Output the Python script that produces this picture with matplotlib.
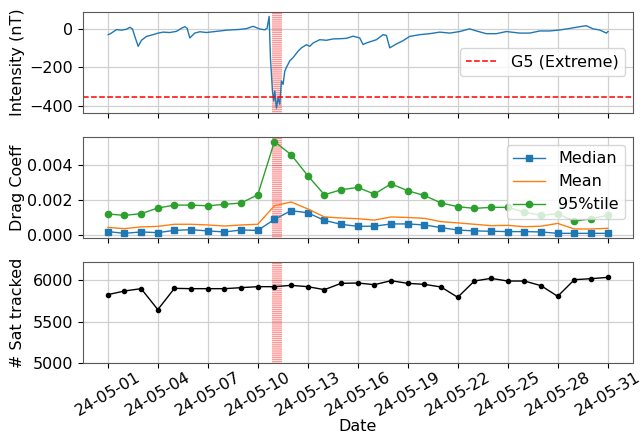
import matplotlib
matplotlib.use('Agg')
import matplotlib.pyplot as plt
import matplotlib.dates as mdates
from matplotlib.ticker import MultipleLocator
import numpy as np
import pandas as pd

plt.rcParams['font.size'] = 11.5

start = pd.Timestamp('2024-05-01')

# Dst-like intensity (days since 2024-05-01, nT)
dst_days = [0.02, 0.16, 0.52, 0.82, 1.12, 1.32, 1.48, 1.62, 1.82, 2.02, 2.32, 2.72,
            3.02, 3.32, 3.72, 4.12, 4.42, 4.62, 4.76, 4.92, 5.22, 5.52, 5.92, 6.32,
            6.72, 7.12, 7.52, 7.92, 8.32, 8.72, 9.12, 9.42, 9.56, 9.68, 9.76, 9.88,
            9.96, 10.02, 10.12, 10.22, 10.32, 10.42, 10.52, 10.62, 10.72, 10.92, 11.12,
            11.42, 11.62, 11.92, 12.12, 12.32, 12.72, 13.12, 13.52, 13.92, 14.32, 14.72,
            15.12, 15.32, 15.52, 16.12, 16.52, 16.72, 16.92, 17.32, 17.72, 18.12, 18.72,
            19.32, 19.92, 20.52, 21.12, 21.72, 22.12, 22.72, 23.32, 23.92, 24.72, 25.32,
            25.92, 26.52, 27.12, 27.72, 28.32, 28.72, 29.12, 29.52, 29.92, 30.02]
dst_vals = [-31, -26, -5, -8, -3, 7, -2, -40, -91, -60, -40, -31,
            -23, -18, -20, -14, 2, 10, 2, -48, -23, -16, -20, -16,
            -12, -8, -6, -4, 0, 12, -2, -6, 2, 63, -150, -322,
            -373, -322, -410, -357, -390, -270, -287, -219, -200, -166, -149,
            -116, -99, -83, -91, -74, -57, -60, -53, -52, -50, -39,
            -48, -82, -74, -57, -31, -35, -99, -79, -62, -40, -31,
            -26, -18, -23, -15, -1, -12, -26, -26, -15, -23, -23,
            -12, -12, -7, 1, 10, 15, -1, -7, -23, -15]
g5_level = -350

# daily statistics, 2024-05-01 .. 2024-05-31
median = [0.00019, 0.00009, 0.00017, 0.00013, 0.00026, 0.00030, 0.00023, 0.00017,
          0.00028, 0.00026, 0.00089, 0.00139, 0.00127, 0.00083, 0.00061, 0.00049,
          0.00050, 0.00063, 0.00063, 0.00057, 0.00042, 0.00028, 0.00023, 0.00021,
          0.00019, 0.00019, 0.00017, 0.00009, 0.00009, 0.00009, 0.00009]
mean = [0.00043, 0.00036, 0.00046, 0.00049, 0.00061, 0.00061, 0.00057, 0.00051,
        0.00057, 0.00061, 0.00167, 0.00189, 0.00149, 0.00103, 0.00097, 0.00093,
        0.00085, 0.00103, 0.00100, 0.00095, 0.00076, 0.00069, 0.00061, 0.00053,
        0.00055, 0.00047, 0.00050, 0.00066, 0.00034, 0.00034, 0.00038]
p95 = [0.00120, 0.00112, 0.00122, 0.00154, 0.00171, 0.00171, 0.00167, 0.00175,
       0.00183, 0.00230, 0.00535, 0.00460, 0.00340, 0.00230, 0.00259, 0.00272,
       0.00234, 0.00293, 0.00253, 0.00226, 0.00183, 0.00162, 0.00152, 0.00158,
       0.00158, 0.00131, 0.00112, 0.00122, 0.00078, 0.00093, 0.00112]
n_sat = [5824, 5868, 5896, 5644, 5900, 5896, 5896, 5896, 5908, 5920, 5920, 5936,
         5920, 5884, 5960, 5964, 5944, 5992, 5960, 5948, 5916, 5792, 5988, 6020,
         5988, 5988, 5932, 5804, 6004, 6016, 6032]

dst_time = start + pd.to_timedelta(dst_days, unit='D')
days = pd.date_range('2024-05-01', '2024-05-31', freq='D')
storm = (pd.Timestamp('2024-05-10 21:00'), pd.Timestamp('2024-05-11 11:00'))

fig, axs = plt.subplots(3, 1, sharex=True, figsize=(6.42, 4.38), dpi=100)
fig.subplots_adjust(left=0.129, right=0.986, top=0.973, bottom=0.171, hspace=0.24)

ax = axs[0]
ax.plot(dst_time, dst_vals, color='tab:blue', lw=1.0)
ax.axhline(g5_level, color='red', ls='--', lw=1.1, label='G5 (Extreme)')
ax.yaxis.set_major_locator(MultipleLocator(200))
ax.set_ylabel('Intensity (nT)', labelpad=2)
ax.legend(loc='center right')

ax = axs[1]
ax.plot(days, median, marker='s', ms=5, lw=1.0, color='tab:blue', label='Median')
ax.plot(days, mean, lw=1.0, color='tab:orange', label='Mean')
ax.plot(days, p95, marker='o', ms=4.5, lw=1.0, color='tab:green', label='95%tile')
ax.yaxis.set_major_locator(MultipleLocator(0.002))
ax.set_ylabel('Drag Coeff', labelpad=2)
ax.legend(loc='upper right')

ax = axs[2]
ax.plot(days, n_sat, marker='o', ms=3, lw=1.0, color='black')
ax.set_ylim(5000, 6215)
ax.yaxis.set_major_locator(MultipleLocator(500))
ax.set_ylabel('# Sat tracked', labelpad=2)
ax.set_xlabel('Date', labelpad=0)

for ax in axs:
    ax.axvspan(*storm, facecolor='none', edgecolor='red', alpha=0.4,
               hatch='-' * 8, lw=0)
    ax.grid(True, color='#d0d0d0', lw=0.9)
    ax.set_axisbelow(True)
    ax.tick_params(axis='x', pad=1)
    for s in ax.spines.values():
        s.set_color('0.35')

axs[2].set_xticks(days[::3])
axs[2].xaxis.set_major_formatter(mdates.DateFormatter('%y-%m-%d'))
plt.setp(axs[2].get_xticklabels(), rotation=30)
fig.align_ylabels(axs)

fig.savefig('out.png')
